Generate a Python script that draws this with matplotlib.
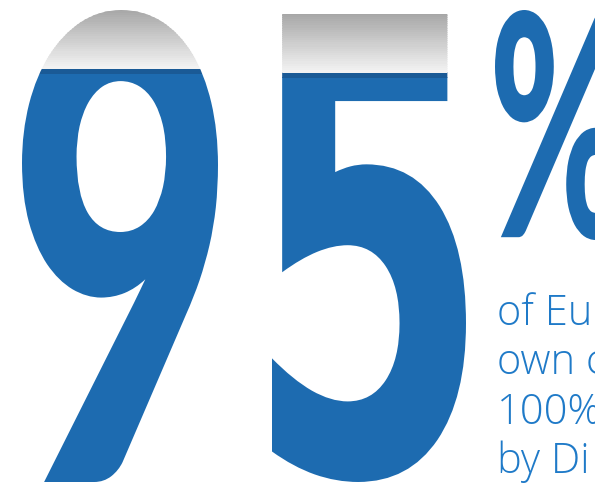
import numpy as np
import matplotlib.pyplot as plt
from matplotlib.colors import to_rgb
from matplotlib.patheffects import AbstractPathEffect
from matplotlib.transforms import Affine2D, Bbox

# headline figure and how far the digits are "filled"
big_value = "95"
fill_level = 0.875          # share of digit height that is blue
caption = ["of Eu", "own c", "100%", "by Di"]

# digit boxes in pixel coords (x0, top, x1, bottom)
digit_boxes = [(22, 10, 218, 482), (272, 14, 466, 482)]
digit_fonts = [("Lato", "black"), ("DejaVu Sans", "bold")]
pct_box = (495, 10, 625, 240)

blue = "#1d6bb0"
line_blue = to_rgb("#1a5a96")
grey_top = np.array([0.63, 0.63, 0.63])
grey_bot = np.array([0.95, 0.95, 0.95])
txt_blue = "#1f7ac8"
n_bands = 30


class FitBox(AbstractPathEffect):
    # squeeze/stretch the glyph so it fills a given box; optionally paint
    # the part above `level` as a grey gradient (the "empty" part)
    def __init__(self, box, trans, level=None):
        super().__init__()
        self.box = box
        self.trans = trans
        self.level = level

    def _clipped(self, renderer, gc, path, trans, col, y0, y1, xs):
        g = renderer.new_gc()
        g.copy_properties(gc)
        g.set_clip_rectangle(Bbox.from_extents(xs[0], y0, xs[1], y1))
        g.set_foreground(col)
        renderer.draw_path(g, path, trans, tuple(col))
        g.restore()

    def draw_path(self, renderer, gc, tpath, affine, rgbFace=None):
        ext = tpath.get_extents(affine)
        x0, t, x1, b = self.box
        (px0, py0), (px1, py1) = self.trans.transform([(x0, t), (x1, b)])
        bx0, bx1 = sorted([px0, px1])
        by0, by1 = sorted([py0, py1])
        fit = (Affine2D().translate(-ext.x0, -ext.y0)
               .scale((bx1 - bx0) / ext.width, (by1 - by0) / ext.height)
               .translate(bx0, by0))
        tr = affine + fit
        if self.level is None:
            renderer.draw_path(gc, tpath, tr, rgbFace)
            return
        xs = (bx0 - 5, bx1 + 5)
        lev = self.trans.transform([(x0, self.level)])[0][1]
        # filled part, with a darker rim at the fill line
        self._clipped(renderer, gc, tpath, tr, rgbFace, by0 - 5, lev - 5, xs)
        self._clipped(renderer, gc, tpath, tr, line_blue, lev - 5.5, lev, xs)
        # empty part, grey fading to white toward the fill line
        edges = np.linspace(by1 + 5, lev, n_bands + 1)
        for k in range(n_bands):
            f = k / (n_bands - 1)
            col = tuple(grey_top * (1 - f) + grey_bot * f)
            self._clipped(renderer, gc, tpath, tr, col,
                          edges[k + 1] - 0.5, edges[k] + 0.5, xs)


fig = plt.figure(figsize=(5.95, 4.86), dpi=100)
ax = fig.add_axes([0, 0, 1, 1])
ax.set_xlim(0, 595)
ax.set_ylim(486, 0)
ax.axis("off")

for ch, box, (fam, wt) in zip(big_value, digit_boxes, digit_fonts):
    x0, top, x1, bot = box
    level = bot - fill_level * (bot - top)
    t = ax.text((x0 + x1) / 2, (top + bot) / 2, ch, fontsize=200,
                family=fam, weight=wt, color=blue,
                ha="center", va="center")
    t.set_path_effects([FitBox(box, ax.transData, level)])

t = ax.text(540, 120, "%", fontsize=110, family="Lato", weight="black",
            color=blue, ha="center", va="center")
t.set_path_effects([FitBox(pct_box, ax.transData)])

for i, line in enumerate(caption):
    ax.text(497, 325 + i * 49.3, line, fontsize=30, family="Open Sans",
            weight="light", color=txt_blue, ha="left", va="baseline")

fig.savefig("out.png", dpi=100)
